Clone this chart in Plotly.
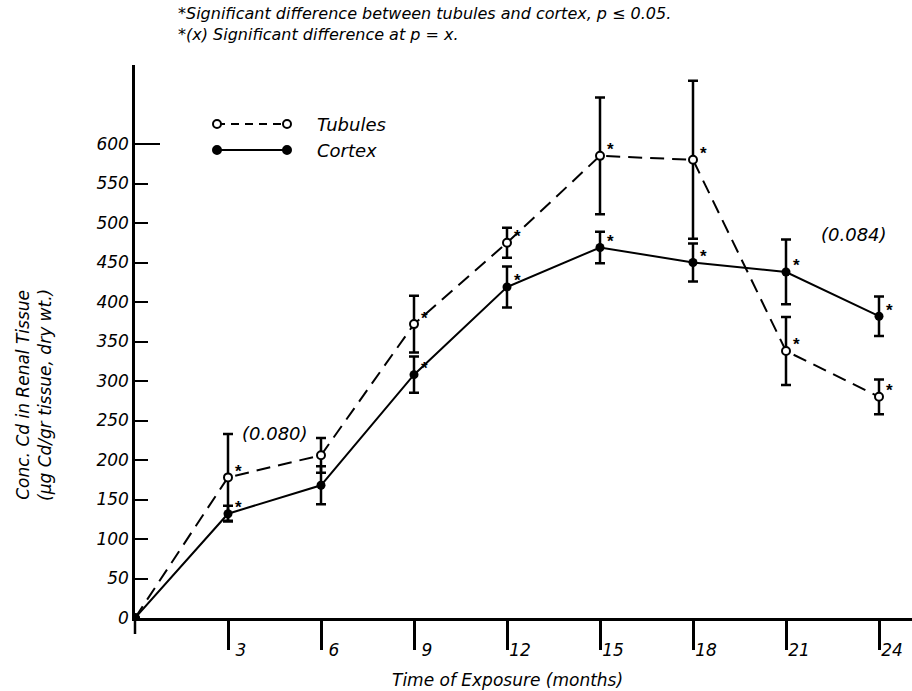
import plotly.graph_objects as go

months = [0, 3, 6, 9, 12, 15, 18, 21, 24]
tubules = [0, 178, 206, 372, 475, 585, 580, 338, 280]
tubules_err = [0, 55, 22, 36, 19, 74, 100, 43, 22]
cortex = [0, 132, 168, 308, 419, 469, 450, 438, 382]
cortex_err = [0, 10, 24, 23, 26, 20, 24, 41, 25]
star_months = [3, 9, 12, 15, 18, 21, 24]
x_ticks = [3, 6, 9, 12, 15, 18, 21, 24]
y_ticks = list(range(0, 601, 50))
notes = [("(0.080)", 4.5, 234), ("(0.084)", 23.2, 486)]

FONT = "DejaVu Sans, Liberation Sans, Arial, sans-serif"
ital = dict(family=FONT, size=17, color="black", style="italic")

fig = go.Figure()

fig.add_trace(go.Scatter(
    x=months, y=tubules, mode="lines+markers",
    line=dict(color="black", width=2, dash="14px,8px"),
    marker=dict(symbol="circle", size=8, color="white", line=dict(color="black", width=2)),
    error_y=dict(type="data", array=tubules_err, visible=True, color="black", thickness=2.5, width=5),
    showlegend=False,
))
fig.add_trace(go.Scatter(
    x=months, y=cortex, mode="lines+markers",
    line=dict(color="black", width=2),
    marker=dict(symbol="circle", size=9, color="black"),
    error_y=dict(type="data", array=cortex_err, visible=True, color="black", thickness=2.5, width=5),
    showlegend=False,
))

W, H = 912, 691
L, R, T, B = 135, 0, 65, 73
pw, ph = W - L - R, H - T - B


def px(x):
    return (x - L) / pw


def py(y):
    return (H - B - y) / ph


annotations = []

# significance stars next to each significant point
for series in (tubules, cortex):
    for m in star_months:
        annotations.append(dict(x=m, y=series[months.index(m)], xref="x", yref="y", text="<b>*</b>",
                                showarrow=False, xanchor="left", yanchor="middle", xshift=5, yshift=6,
                                font=dict(family="Liberation Sans, Arial, sans-serif", size=17, color="black")))

for txt, xm, yv in notes:
    annotations.append(dict(x=xm, y=yv, xref="x", yref="y", text=txt, showarrow=False,
                            font=dict(ital, size=18), xanchor="center", yanchor="middle"))

annotations.append(dict(x=px(176), y=py(14), xref="paper", yref="paper", xanchor="left", yanchor="middle",
                        text="*Significant difference between tubules and cortex, p ≤ 0.05.",
                        showarrow=False, font=dict(ital, size=16)))
annotations.append(dict(x=px(176), y=py(34), xref="paper", yref="paper", xanchor="left", yanchor="middle",
                        text="*(x) Significant difference at p = x.",
                        showarrow=False, font=dict(ital, size=16)))

# axis titles
annotations.append(dict(x=px(34), y=py(395), xref="paper", yref="paper", xanchor="center", yanchor="middle",
                        text="Conc. Cd in Renal Tissue<br>(µg Cd/gr tissue, dry wt.)", textangle=-90,
                        showarrow=False, font=dict(ital, size=17)))
annotations.append(dict(x=px(507), y=py(680), xref="paper", yref="paper", xanchor="center", yanchor="middle",
                        text="Time of Exposure (months)", showarrow=False, font=dict(ital, size=17)))

# legend
shapes = []
leg = [("Tubules", 124, "white", "dash"), ("Cortex", 150, "black", "solid")]
for name, yy, fill, dash in leg:
    shapes.append(dict(type="line", xref="paper", yref="paper", x0=px(217), x1=px(287), y0=py(yy), y1=py(yy),
                       line=dict(color="black", width=2, dash="8px,6px" if dash == "dash" else "solid")))
    for xx in (217, 287):
        shapes.append(dict(type="circle", xref="paper", yref="paper", xsizemode="pixel", ysizemode="pixel",
                           xanchor=px(xx), yanchor=py(yy), x0=-4, x1=4, y0=-4, y1=4,
                           fillcolor=fill, line=dict(color="black", width=2)))
    annotations.append(dict(x=px(315), y=py(yy), xref="paper", yref="paper", xanchor="left", yanchor="middle",
                            text=name, showarrow=False, font=dict(ital, size=18)))

# y axis extension below the x axis and longer top tick
shapes.append(dict(type="line", xref="paper", yref="paper", x0=0, x1=0, y0=0, y1=py(634),
                   line=dict(color="black", width=2.5)))
shapes.append(dict(type="line", xref="paper", yref="y", x0=0, x1=px(160), y0=max(y_ticks), y1=max(y_ticks),
                   line=dict(color="black", width=2)))

fig.update_layout(
    width=W, height=H, margin=dict(l=L, r=R, t=T, b=B),
    paper_bgcolor="white", plot_bgcolor="white",
    annotations=annotations, shapes=shapes,
    font=dict(family=FONT, color="black"),
)
fig.update_xaxes(
    range=[0, pw / 31.0], tickvals=x_ticks, ticktext=[str(v) for v in x_ticks],
    ticks="outside", ticklen=29, tickwidth=2.5, tickcolor="black",
    showline=True, linecolor="black", linewidth=2.5, showgrid=False, zeroline=False,
    tickfont=dict(ital, size=17), ticklabelshift=13, ticklabelstandoff=-14,
)
fig.update_yaxes(
    range=[0, ph / 0.79], tickvals=y_ticks, ticktext=[str(v) for v in y_ticks],
    ticks="inside", ticklen=13, tickwidth=2, tickcolor="black",
    showline=True, linecolor="black", linewidth=2.5, showgrid=False, zeroline=False,
    tickfont=dict(ital, size=17), ticklabelstandoff=0,
)

fig.write_html("out.html")
